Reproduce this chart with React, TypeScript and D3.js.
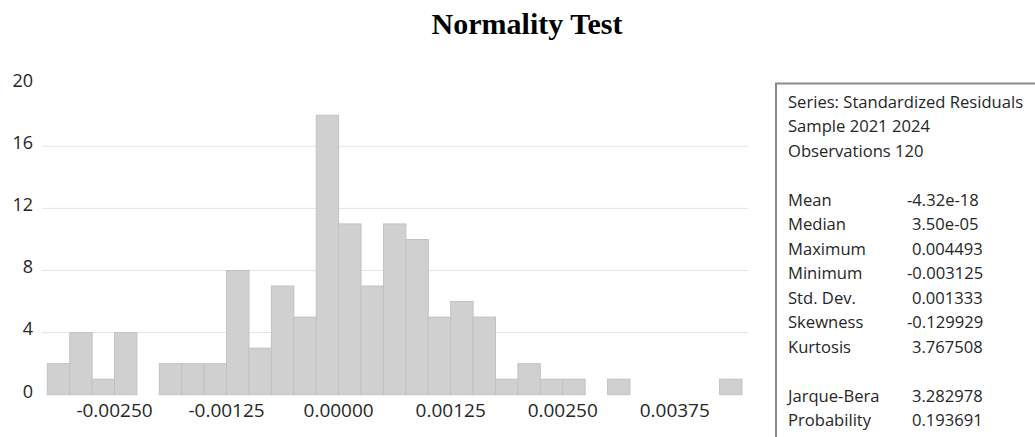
import React from 'react';
import * as d3 from 'd3';

const title = 'Normality Test';
const binStart = -0.00325;
const binWidth = 0.00025;
const counts = [2, 4, 1, 4, 0, 2, 2, 2, 8, 3, 7, 5, 18, 11, 7, 11, 10, 5, 6, 5, 1, 2, 1, 1, 0, 1, 0, 0, 0, 0, 1];
const xTicks = [-0.0025, -0.00125, 0, 0.00125, 0.0025, 0.00375];
const yTicks = [0, 4, 8, 12, 16, 20];
const gridTicks = [4, 8, 12, 16];
const headerLines = ['Series: Standardized Residuals', 'Sample 2021 2024', 'Observations 120'];
const statLabels = ['Mean', 'Median', 'Maximum', 'Minimum', 'Std. Dev.', 'Skewness', 'Kurtosis'];
const statValues = ['-4.32e-18', '3.50e-05', '0.004493', '-0.003125', '0.001333', '-0.129929', '3.767508'];
const testLabels = ['Jarque-Bera', 'Probability'];
const testValues = ['3.282978', '0.193691'];

export default function App() {
  const W = 1035, H = 437;
  const x = d3.scaleLinear().domain([binStart, binStart + counts.length * binWidth]).range([47.3, 742]);
  const y = d3.scaleLinear().domain([0, 20]).range([394.7, 84.2]);
  const fmt = (v: number) => (Math.abs(v) < 1e-12 ? '0.00000' : d3.format('.5f')(v).replace('−', '-'));
  const font = "'Open Sans', sans-serif";
  const rowY = (i: number) => 107.5 + 24.5 * i;
  const valX = (v: string) => (v.startsWith('-') ? 907 : 912);
  const statSize = 16.6;
  const txt = '#262626';

  return (
    <svg width={W} height={H} style={{ position: 'absolute', left: 0, top: 0, background: '#fff' }}>
      <text x={527} y={34} textAnchor="middle" fontFamily="'Liberation Serif', 'Times New Roman', serif" fontWeight="bold" fontSize={30} fill="#000">
        {title}
      </text>
      {gridTicks.map((t) => (
        <line key={t} x1={42} x2={748} y1={y(t)} y2={y(t)} stroke="#e4e4e4" strokeWidth={1} />
      ))}
      {counts.map((c, i) =>
        c > 0 ? (
          <rect
            key={i}
            x={x(binStart + i * binWidth)}
            y={y(c)}
            width={x(binStart + (i + 1) * binWidth) - x(binStart + i * binWidth)}
            height={y(0) - y(c)}
            fill="#d0d0d0"
            stroke="#c2c2c2"
            strokeWidth={1}
          />
        ) : null
      )}
      {yTicks.map((t) => (
        <text key={t} x={33} y={y(t) - 2} textAnchor="end" dominantBaseline="middle" fontFamily={font} fontSize={18} fill={txt}>
          {t}
        </text>
      ))}
      {xTicks.map((t) => (
        <text key={t} x={x(t)} y={417} textAnchor="middle" fontFamily={font} fontSize={19} fill={txt}>
          {fmt(t)}
        </text>
      ))}
      <rect x={776} y={83.5} width={300} height={400} fill="#fff" stroke="#8a8a8a" strokeWidth={2} />
      {headerLines.map((s, i) => (
        <text key={s} x={788} y={rowY(i)} fontFamily={font} fontSize={statSize} fill={txt}>
          {s}
        </text>
      ))}
      {statLabels.map((s, i) => (
        <g key={s}>
          <text x={788} y={rowY(i + 4)} fontFamily={font} fontSize={statSize} fill={txt}>{s}</text>
          <text x={valX(statValues[i])} y={rowY(i + 4)} fontFamily={font} fontSize={statSize} fill={txt}>{statValues[i]}</text>
        </g>
      ))}
      {testLabels.map((s, i) => (
        <g key={s}>
          <text x={788} y={rowY(i + 12)} fontFamily={font} fontSize={statSize} fill={txt}>{s}</text>
          <text x={valX(testValues[i])} y={rowY(i + 12)} fontFamily={font} fontSize={statSize} fill={txt}>{testValues[i]}</text>
        </g>
      ))}
    </svg>
  );
}
